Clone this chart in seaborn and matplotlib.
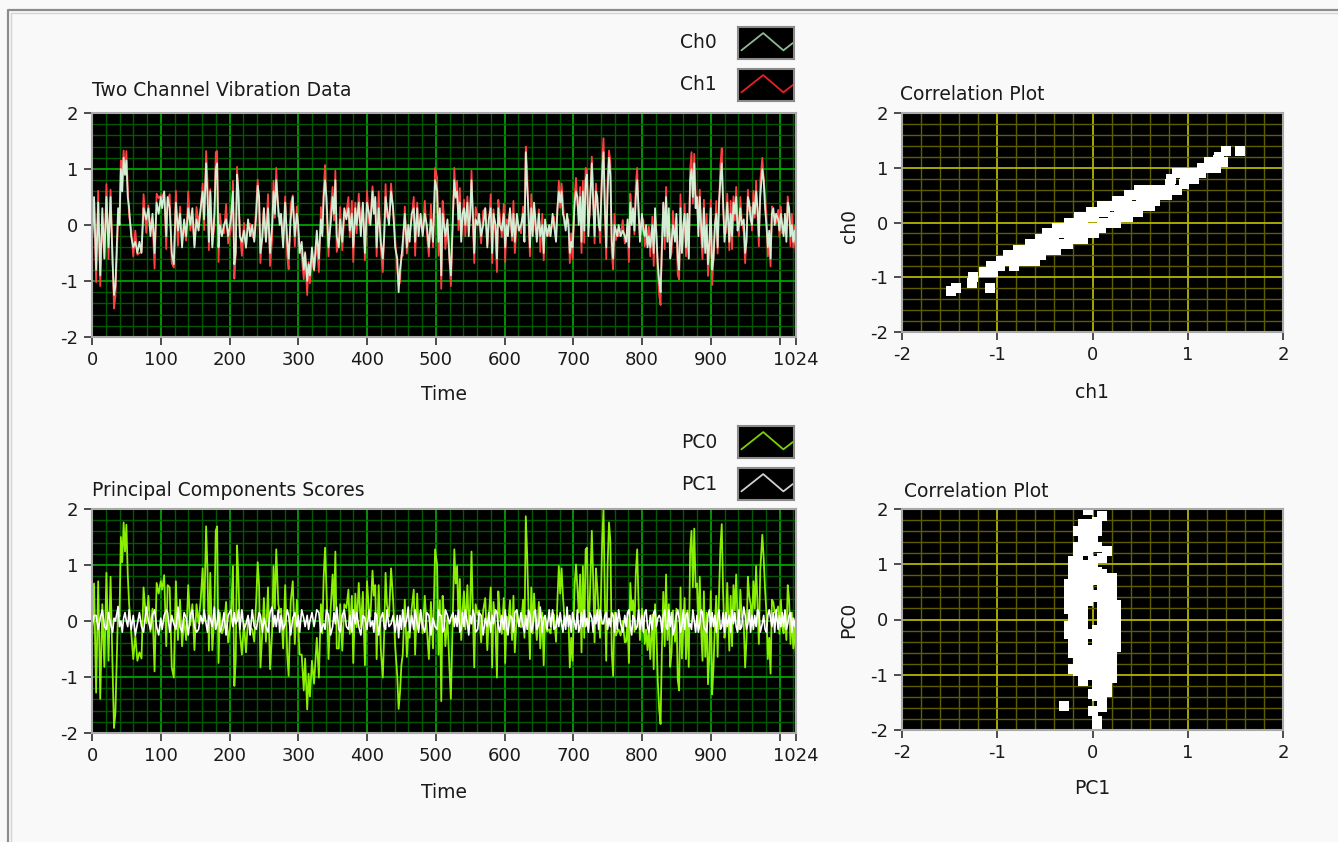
import numpy as np
import pandas as pd
import seaborn as sns
import matplotlib.pyplot as plt
from matplotlib.lines import Line2D
from matplotlib.ticker import MultipleLocator

# sample index (Time) and the two vibration channels
t = [0, 3, 6, 9, 12, 15, 18, 21, 24, 27, 30, 32, 34, 38, 40, 42, 44, 46, 48, 50,
     52, 54, 57, 60, 63, 66, 69, 72, 75, 79, 82, 85, 88, 91, 94, 97, 100, 102, 105, 108,
     110, 113, 116, 119, 122, 125, 128, 131, 134, 137, 140, 143, 146, 149, 152, 155, 158, 161, 163, 166,
     168, 170, 172, 175, 178, 180, 182, 184, 186, 189, 192, 195, 198, 202, 205, 207, 209, 211, 213, 215,
     218, 221, 224, 227, 230, 233, 236, 239, 241, 243, 245, 248, 250, 253, 256, 259, 262, 264, 266, 268,
     271, 273, 275, 278, 281, 284, 286, 289, 292, 295, 298, 300, 302, 305, 308, 310, 313, 315, 317, 320,
     323, 327, 330, 333, 335, 337, 339, 341, 344, 347, 350, 352, 354, 356, 359, 361, 364, 367, 370, 373,
     375, 378, 380, 383, 385, 388, 391, 394, 397, 400, 403, 405, 408, 410, 412, 414, 417, 420, 423, 425,
     427, 429, 432, 435, 438, 441, 444, 446, 448, 450, 452, 455, 458, 460, 462, 465, 468, 470, 473, 475,
     478, 481, 484, 487, 490, 493, 496, 499, 502, 504, 506, 508, 510, 512, 514, 517, 520, 522, 525, 527,
     529, 531, 533, 535, 537, 539, 541, 543, 546, 548, 550, 552, 554, 556, 558, 561, 563, 566, 569, 572,
     575, 577, 580, 582, 584, 587, 589, 591, 593, 596, 599, 601, 603, 605, 608, 611, 613, 615, 618, 621,
     624, 627, 629, 631, 633, 635, 637, 639, 641, 643, 645, 647, 650, 652, 655, 657, 659, 662, 665, 667,
     670, 672, 675, 677, 679, 681, 683, 685, 687, 689, 691, 693, 695, 697, 699, 702, 704, 706, 708, 710,
     712, 714, 716, 718, 720, 722, 724, 727, 729, 731, 733, 735, 737, 739, 742, 744, 746, 748, 750, 752,
     754, 756, 758, 760, 762, 764, 766, 769, 772, 775, 777, 779, 781, 783, 785, 787, 789, 791, 793, 795,
     797, 800, 802, 804, 806, 808, 810, 812, 815, 817, 819, 821, 823, 825, 827, 829, 831, 833, 835, 837,
     839, 841, 843, 845, 848, 850, 852, 854, 856, 858, 860, 862, 864, 866, 868, 870, 872, 874, 876, 878,
     880, 882, 884, 886, 888, 890, 892, 894, 896, 898, 900, 902, 904, 906, 908, 910, 912, 914, 916, 918,
     920, 922, 924, 927, 929, 931, 933, 935, 937, 939, 941, 943, 945, 948, 950, 952, 954, 956, 958, 960,
     962, 964, 966, 968, 970, 972, 975, 977, 979, 981, 983, 985, 987, 989, 991, 993, 995, 998, 1000, 1002,
     1004, 1006, 1008, 1010, 1012, 1014, 1016, 1018, 1020, 1022, 1024]

ch0 = [-0.3, 0.5, -0.8, 0.4, -0.9, 0.3, -0.6, 0.5, -0.4, 0.5, -0.7, -1.25, -1.1, 0.3, 0.0, 1.0, 0.6, 1.2, 0.9, 1.15,
       0.5, 0.3, -0.2, -0.4, -0.3, -0.5, -0.3, -0.5, 0.3, 0.1, 0.3, -0.2, 0.2, -0.5, 0.4, 0.2, 0.5, 0.3, 0.6, -0.2,
       0.5, 0.3, -0.5, -0.7, 0.4, -0.1, 0.2, -0.4, 0.1, -0.2, 0.3, 0.0, 0.3, -0.4, 0.1, -0.1, 0.3, 0.6, 0.1, 1.1,
       0.5, -0.3, 0.6, -0.4, 0.2, 1.0, 1.1, -0.4, 0.0, -0.2, 0.0, 0.1, -0.2, 0.1, 0.6, -0.7, -0.5, 0.9, 0.6, -0.2,
       -0.3, -0.1, -0.4, 0.1, -0.2, 0.0, -0.3, 0.2, 0.7, 0.5, -0.5, -0.2, 0.3, -0.3, 0.3, -0.5, 0.0, 0.6, 0.2, 0.8,
       0.3, 0.0, 0.2, -0.4, 0.4, -0.3, -0.6, 0.1, 0.5, -0.2, 0.2, 0.0, -0.5, -0.3, -0.8, -0.5, -1.0, -0.7, -0.9, -0.4,
       -0.8, -0.1, -0.6, 0.1, -0.2, 0.5, 0.8, 0.5, -0.4, 0.0, 0.5, 0.2, 0.8, -0.2, -0.4, 0.1, -0.3, 0.3, 0.1, 0.3,
       -0.1, 0.2, -0.4, 0.3, 0.0, 0.4, -0.2, 0.4, -0.5, 0.4, 0.2, 0.0, 0.6, 0.2, 0.5, -0.4, 0.3, -0.3, -0.6, -0.2,
       0.5, 0.3, 0.0, 0.6, 0.3, -0.4, -0.6, -1.2, -0.8, -0.6, -0.3, 0.2, -0.4, 0.0, -0.3, 0.2, 0.3, -0.3, 0.3, -0.2,
       0.2, -0.2, 0.2, 0.0, -0.4, 0.1, -0.3, 0.8, 0.6, -0.3, 0.3, -0.9, 0.2, 0.0, -0.2, 0.1, -0.6, -0.9, 0.2, 0.8,
       0.5, 0.6, 0.1, 0.4, -0.3, 0.2, 0.3, 0.0, 0.4, -0.2, 0.2, 0.8, 0.2, -0.5, 0.1, 0.0, 0.2, -0.2, 0.0, 0.3,
       -0.4, 0.1, 0.3, -0.5, 0.2, 0.0, -0.6, 0.3, 0.0, -0.1, 0.2, -0.4, 0.0, -0.2, 0.3, -0.2, 0.2, -0.3, 0.2, -0.1,
       0.0, 0.2, -0.3, 1.3, 0.7, 0.2, -0.4, 0.3, -0.2, 0.4, 0.1, -0.3, 0.2, -0.2, 0.0, -0.5, 0.1, -0.2, 0.0, -0.2,
       0.2, 0.0, -0.3, 0.3, 0.6, 0.4, 0.6, 0.2, 0.1, -0.1, 0.2, 0.0, -0.5, -0.3, -0.4, 0.4, 0.6, 0.5, 0.0, 0.5,
       -0.3, 0.6, -0.1, 0.8, 0.9, -0.2, 0.3, 1.1, 0.4, -0.2, 0.6, 0.5, 0.0, -0.1, 0.9, 1.3, 0.3, -0.4, 0.6, 1.2,
       0.9, -0.3, -0.6, 0.0, -0.1, -0.2, 0.0, -0.2, -0.1, -0.2, -0.3, 0.1, -0.4, 0.4, 0.0, 0.3, -0.1, 0.5, 0.8, 0.3,
       -0.3, 0.2, -0.1, -0.2, 0.0, -0.4, -0.2, -0.4, 0.0, -0.5, 0.3, -0.2, -0.7, -1.0, -1.2, -0.4, 0.4, -0.2, 0.5, -0.3,
       0.3, -0.6, -0.3, 0.0, -0.3, 0.2, -0.6, -0.8, 0.3, -0.5, 0.0, 0.2, -0.4, 0.2, -0.6, 0.8, 1.0, 0.5, 1.1, 0.3,
       0.5, -0.2, 0.5, 0.0, -0.4, 0.3, -0.5, 0.0, -0.7, -0.3, 0.3, -0.8, -0.6, 0.0, 0.2, -0.4, 0.4, 0.8, 1.1, 0.4,
       -0.3, 0.0, 0.4, -0.3, 0.2, -0.2, 0.4, 0.2, 0.5, -0.1, 0.0, 0.3, 0.0, 0.1, -0.5, -0.3, 0.5, 0.4, 0.1, 0.0,
       0.4, 0.2, 0.6, 0.3, -0.2, 0.5, 1.0, 0.8, 0.3, 0.0, -0.4, -0.1, -0.6, 0.2, 0.3, 0.0, 0.2, 0.1, -0.1, 0.2,
       0.0, -0.2, 0.2, -0.3, 0.4, 0.3, -0.2, 0.0, -0.3, -0.1, -0.4]

ch1 = [-0.25, 0.48, -1.02, 0.61, -1.09, 0.15, -0.59, 0.73, -0.61, 0.63, -0.6, -1.49, -1.27, 0.1, 0.1, 1.15, 0.89, 1.33, 0.89, 1.32,
       0.68, 0.15, -0.08, -0.56, -0.1, -0.53, -0.5, -0.48, 0.55, -0.14, 0.35, -0.08, 0.13, -0.78, 0.56, 0.48, 0.53, 0.5, 0.59, -0.43,
       0.43, 0.55, -0.68, -0.76, 0.61, -0.37, 0.33, -0.26, -0.04, -0.28, 0.6, -0.1, 0.15, -0.36, 0.32, 0.04, 0.25, 0.74, -0.09, 1.32,
       0.78, -0.45, 0.64, -0.36, -0.02, 1.3, 1.32, -0.66, 0.2, -0.13, -0.15, 0.37, -0.33, -0.09, 0.79, -0.96, -0.53, 1.04, 0.49, -0.08,
       -0.55, 0.04, -0.41, 0.02, 0.02, -0.2, -0.25, 0.38, 0.81, 0.43, -0.68, -0.03, 0.3, -0.25, 0.55, -0.73, -0.25, 0.79, 0.13, 1.02,
       0.15, 0.2, 0.13, -0.31, 0.51, -0.55, -0.79, 0.37, 0.53, -0.38, 0.33, -0.1, -0.38, -0.55, -0.97, -0.48, -1.25, -0.66, -1.04, -0.61,
       -0.82, -0.32, -0.84, 0.32, -0.13, 0.63, 1.07, 0.38, -0.56, 0.25, 0.68, 0.08, 0.97, -0.48, -0.31, 0.32, -0.45, 0.15, 0.22, 0.5,
       -0.22, 0.43, -0.66, 0.4, -0.15, 0.56, 0.02, 0.36, -0.63, 0.61, 0.03, 0.1, 0.69, 0.43, 0.43, -0.56, 0.6, -0.4, -0.84, -0.13,
       0.73, 0.15, 0.1, 0.74, 0.25, -0.26, -0.79, -1.08, -1.02, -0.54, -0.55, 0.33, -0.51, -0.25, -0.15, 0.13, 0.5, -0.55, 0.4, -0.03,
       0.03, -0.13, 0.43, -0.15, -0.56, 0.37, -0.4, 1.02, 0.84, -0.55, 0.25, -1.14, 0.43, 0.15, -0.43, 0.02, -0.64, -1.09, 0.08, 1.02,
       0.48, 0.79, -0.09, 0.66, -0.2, 0.08, 0.45, -0.2, 0.51, 0.02, 0.13, 0.97, 0.03, -0.68, 0.32, 0.15, 0.08, -0.33, 0.25, 0.3,
       -0.36, -0.04, 0.55, -0.68, 0.28, -0.2, -0.84, 0.45, 0.2, -0.22, 0.38, -0.66, 0.1, 0.02, 0.25, -0.28, 0.43, -0.5, 0.03, -0.02,
       -0.15, 0.33, -0.15, 1.4, 0.96, 0.03, -0.56, 0.55, -0.13, 0.31, -0.09, -0.2, 0.28, -0.48, 0.2, -0.63, 0.02, -0.08, -0.2, -0.13,
       0.03, 0.15, -0.25, 0.25, 0.79, 0.31, 0.74, 0.43, 0.02, 0.04, -0.02, 0.1, -0.68, -0.15, -0.61, 0.51, 0.84, 0.38, 0.2, 0.68,
       -0.5, 0.79, -0.32, 1.02, 0.99, -0.03, 0.2, 1.22, 0.66, -0.33, 0.74, 0.38, 0.15, -0.32, 1.09, 1.55, 0.25, -0.61, 0.84, 1.33,
       1.14, -0.5, -0.79, 0.2, -0.27, -0.08, -0.2, -0.18, 0.09, -0.33, -0.25, -0.04, -0.66, 0.56, 0.25, 0.25, -0.17, 0.73, 1.02, 0.15,
       -0.2, 0.13, 0.09, -0.38, -0.2, -0.36, -0.03, -0.56, 0.15, -0.73, 0.15, -0.13, -0.86, -1.25, -1.43, -0.26, 0.36, -0.43, 0.68, -0.2,
       0.15, -0.59, -0.5, 0.25, -0.25, 0.13, -0.89, -0.97, 0.55, -0.48, -0.2, 0.38, -0.56, 0.08, -0.59, 0.97, 1.3, 0.38, 1.27, 0.55,
       0.48, -0.03, 0.63, -0.2, -0.61, 0.45, -0.43, 0.2, -0.91, -0.55, 0.45, -1.07, -0.59, -0.1, 0.43, -0.51, 0.26, 1.07, 1.37, 0.31,
       -0.15, -0.15, 0.56, -0.45, 0.43, -0.43, 0.51, 0.08, 0.68, 0.09, -0.2, 0.5, 0.1, -0.14, -0.68, -0.2, 0.63, 0.26, 0.32, -0.1,
       0.61, 0.13, 0.79, 0.15, -0.38, 0.78, 1.2, 0.82, 0.5, 0.2, -0.56, -0.32, -0.74, 0.33, 0.2, 0.2, 0.03, 0.27, -0.22, 0.33,
       -0.15, -0.13, 0.03, -0.2, 0.51, 0.25, -0.38, 0.2, -0.4, -0.02, -0.56]

# principal component scores
pc0 = [-0.37, 0.67, -1.28, 0.71, -1.39, 0.3, -0.82, 0.86, -0.71, 0.79, -0.9, -1.91, -1.65, 0.26, 0.08, 1.5, 1.05, 1.76, 1.24, 1.72,
       0.83, 0.3, -0.19, -0.68, -0.26, -0.71, -0.56, -0.67, 0.6, -0.04, 0.45, -0.19, 0.22, -0.9, 0.68, 0.49, 0.71, 0.56, 0.82, -0.45,
       0.64, 0.6, -0.83, -1.01, 0.71, -0.34, 0.38, -0.45, 0.04, -0.34, 0.64, -0.08, 0.3, -0.52, 0.3, -0.04, 0.37, 0.94, 0.0, 1.69,
       0.9, -0.53, 0.86, -0.52, 0.11, 1.61, 1.69, -0.75, 0.15, -0.22, -0.11, 0.34, -0.38, 0.0, 0.98, -1.16, -0.71, 1.35, 0.75, -0.19,
       -0.6, -0.04, -0.56, 0.07, -0.11, -0.15, -0.37, 0.41, 1.05, 0.64, -0.83, -0.15, 0.41, -0.37, 0.6, -0.86, -0.19, 0.98, 0.22, 1.28,
       0.3, 0.15, 0.22, -0.49, 0.64, -0.6, -0.98, 0.34, 0.71, -0.41, 0.38, -0.08, -0.6, -0.6, -1.24, -0.67, -1.58, -0.94, -1.35, -0.71,
       -1.12, -0.3, -1.01, 0.3, -0.22, 0.79, 1.31, 0.6, -0.68, 0.19, 0.83, 0.19, 1.24, -0.49, -0.49, 0.3, -0.53, 0.3, 0.23, 0.56,
       -0.23, 0.45, -0.75, 0.49, -0.11, 0.68, -0.11, 0.52, -0.79, 0.71, 0.15, 0.08, 0.9, 0.45, 0.64, -0.68, 0.64, -0.49, -1.01, -0.22,
       0.86, 0.3, 0.08, 0.94, 0.37, -0.45, -0.98, -1.57, -1.28, -0.79, -0.6, 0.38, -0.64, -0.19, -0.3, 0.22, 0.56, -0.6, 0.49, -0.15,
       0.15, -0.22, 0.45, -0.11, -0.68, 0.34, -0.49, 1.28, 1.01, -0.6, 0.37, -1.43, 0.45, 0.11, -0.45, 0.07, -0.86, -1.39, 0.19, 1.28,
       0.67, 0.98, 0.0, 0.75, -0.34, 0.19, 0.53, -0.15, 0.64, -0.11, 0.22, 1.24, 0.15, -0.83, 0.3, 0.11, 0.19, -0.38, 0.19, 0.41,
       -0.52, 0.04, 0.6, -0.83, 0.34, -0.15, -1.01, 0.53, 0.15, -0.23, 0.41, -0.75, 0.08, -0.11, 0.37, -0.34, 0.45, -0.56, 0.15, -0.07,
       -0.11, 0.38, -0.3, 1.87, 1.16, 0.15, -0.68, 0.6, -0.22, 0.49, 0.0, -0.34, 0.34, -0.49, 0.15, -0.79, 0.07, -0.19, -0.15, -0.22,
       0.15, 0.11, -0.37, 0.37, 0.98, 0.49, 0.94, 0.45, 0.07, -0.04, 0.11, 0.08, -0.83, -0.3, -0.71, 0.64, 1.01, 0.6, 0.15, 0.83,
       -0.56, 0.98, -0.3, 1.28, 1.31, -0.15, 0.34, 1.61, 0.75, -0.38, 0.94, 0.6, 0.11, -0.3, 1.39, 1.99, 0.37, -0.71, 1.01, 1.76,
       1.43, -0.56, -0.98, 0.15, -0.26, -0.19, -0.15, -0.26, 0.0, -0.38, -0.37, 0.04, -0.75, 0.68, 0.19, 0.37, -0.19, 0.86, 1.28, 0.3,
       -0.34, 0.22, 0.0, -0.41, -0.15, -0.52, -0.15, -0.68, 0.11, -0.86, 0.3, -0.22, -1.09, -1.58, -1.84, -0.45, 0.52, -0.45, 0.83, -0.34,
       0.3, -0.82, -0.56, 0.19, -0.37, 0.22, -1.05, -1.24, 0.6, -0.67, -0.15, 0.41, -0.68, 0.19, -0.82, 1.24, 1.61, 0.6, 1.65, 0.6,
       0.67, -0.15, 0.79, -0.15, -0.71, 0.53, -0.64, 0.15, -1.13, -0.6, 0.53, -1.31, -0.82, -0.08, 0.45, -0.64, 0.45, 1.31, 1.73, 0.49,
       -0.3, -0.11, 0.68, -0.53, 0.45, -0.45, 0.64, 0.19, 0.83, 0.0, -0.15, 0.56, 0.08, -0.04, -0.83, -0.34, 0.79, 0.45, 0.3, -0.08,
       0.71, 0.22, 0.98, 0.3, -0.41, 0.9, 1.54, 1.12, 0.56, 0.15, -0.68, -0.3, -0.94, 0.38, 0.34, 0.15, 0.15, 0.26, -0.23, 0.38,
       -0.11, -0.22, 0.15, -0.34, 0.64, 0.37, -0.41, 0.15, -0.49, -0.07, -0.68]

pc1 = [-0.1, 0.1, 0.1, -0.15, 0.05, 0.2, -0.1, -0.15, 0.15, -0.05, -0.2, 0.05, 0.0, 0.25, -0.1, 0.0, -0.2, 0.05, 0.15, 0.0,
       -0.1, 0.2, -0.15, 0.1, -0.25, -0.05, 0.15, -0.1, -0.2, 0.25, 0.0, -0.15, 0.1, 0.2, -0.1, -0.25, 0.05, -0.15, 0.1, 0.2,
       0.15, -0.2, 0.1, -0.05, -0.15, 0.25, -0.1, -0.2, 0.15, 0.05, -0.25, 0.1, 0.2, -0.1, -0.2, -0.15, 0.1, -0.05, 0.2, -0.05,
       -0.2, 0.1, 0.05, -0.1, 0.25, -0.15, -0.05, 0.2, -0.2, -0.1, 0.15, -0.25, 0.1, 0.2, -0.1, 0.15, -0.05, 0.0, 0.2, -0.15,
       0.2, -0.15, -0.05, 0.1, -0.25, 0.2, -0.1, -0.15, 0.0, 0.15, 0.1, -0.2, 0.05, -0.1, -0.2, 0.15, 0.25, -0.1, 0.1, -0.1,
       0.2, -0.2, 0.1, -0.15, -0.05, 0.2, 0.1, -0.25, 0.05, 0.15, -0.1, 0.1, -0.2, 0.2, 0.05, -0.1, 0.1, -0.15, 0.0, 0.15,
       -0.1, 0.2, 0.15, -0.2, -0.1, -0.05, -0.15, 0.2, 0.1, -0.25, -0.1, 0.15, -0.05, 0.25, -0.15, -0.2, 0.1, 0.2, -0.1, -0.15,
       0.1, -0.2, 0.2, -0.05, 0.15, -0.1, -0.25, 0.1, 0.05, -0.15, 0.2, -0.1, 0.0, -0.2, 0.15, 0.1, -0.25, 0.05, 0.15, -0.1,
       -0.15, 0.2, -0.1, -0.05, 0.1, -0.2, 0.1, -0.3, 0.1, -0.15, 0.2, -0.1, 0.05, 0.25, -0.2, 0.1, -0.15, 0.2, -0.05, -0.2,
       0.2, -0.1, -0.2, 0.15, 0.1, -0.25, 0.05, -0.1, -0.15, 0.2, 0.1, 0.1, -0.2, -0.15, 0.2, 0.1, -0.05, 0.05, 0.15, -0.1,
       0.1, -0.1, 0.2, -0.2, -0.15, 0.15, -0.1, 0.2, -0.05, -0.25, 0.1, -0.05, 0.2, 0.1, -0.2, -0.15, 0.15, 0.1, -0.25, 0.05,
       -0.1, 0.15, -0.2, 0.1, -0.05, 0.2, 0.15, -0.1, -0.2, 0.1, -0.15, 0.2, -0.1, -0.25, 0.1, 0.05, -0.2, 0.15, 0.2, -0.1,
       0.15, -0.1, -0.2, 0.1, -0.15, 0.2, 0.1, -0.2, -0.1, 0.15, 0.2, -0.15, -0.05, 0.25, -0.2, 0.05, 0.1, -0.15, 0.2, -0.1,
       0.2, -0.15, -0.1, 0.1, -0.1, 0.15, -0.05, -0.2, 0.1, -0.15, 0.25, -0.1, 0.1, -0.2, 0.15, -0.05, -0.15, 0.2, -0.2, -0.1,
       0.15, -0.1, 0.2, -0.1, 0.05, -0.2, 0.15, 0.05, -0.2, 0.1, -0.05, 0.2, -0.15, 0.2, -0.05, -0.05, 0.1, 0.15, -0.15, 0.05,
       -0.1, 0.15, 0.1, -0.2, 0.15, -0.15, 0.2, -0.05, -0.2, 0.1, -0.1, 0.15, 0.2, -0.1, -0.25, 0.1, 0.05, -0.15, -0.1, 0.2,
       -0.15, 0.1, -0.2, 0.15, 0.2, -0.1, -0.2, 0.1, -0.15, 0.15, 0.2, -0.1, 0.05, 0.1, 0.05, -0.2, 0.1, 0.2, -0.1, -0.15,
       0.2, -0.1, 0.15, -0.25, -0.1, 0.1, 0.2, 0.05, -0.2, -0.1, 0.2, -0.15, 0.1, 0.15, -0.1, -0.05, -0.15, 0.2, 0.0, -0.2,
       0.1, -0.2, -0.05, 0.2, 0.15, -0.1, -0.15, -0.2, 0.1, 0.2, -0.1, 0.15, -0.1, 0.1, -0.2, 0.05, 0.2, -0.15, -0.1, 0.15,
       -0.2, 0.15, -0.1, 0.1, -0.2, 0.2, -0.05, 0.15, -0.1, -0.2, 0.2, -0.15, -0.1, 0.25, 0.1, -0.15, -0.05, 0.2, -0.2, 0.1,
       -0.15, 0.1, -0.1, 0.2, 0.15, -0.2, -0.05, 0.1, -0.15, -0.2, 0.1, 0.2, 0.05, -0.1, 0.15, -0.2, 0.2, -0.15, 0.1, -0.1,
       0.15, -0.1, 0.2, -0.15, -0.05, 0.1, 0.15, -0.2, 0.05, -0.1, 0.1]

time_ticks = [0, 100, 200, 300, 400, 500, 600, 700, 800, 900, 1000, 1024]
time_labels = ['0', '100', '200', '300', '400', '500', '600', '700', '800', '900', '', '1024']

df = pd.DataFrame({'t': t, 'ch0': ch0, 'ch1': ch1, 'pc0': pc0, 'pc1': pc1})

W, H = 1338, 842


def box(x0, y0, x1, y1):
    # pixel box (origin top left) -> figure rect
    return [x0 / W, 1 - y1 / H, (x1 - x0) / W, (y1 - y0) / H]


def fx(x):
    return x / W


def fy(y):
    return 1 - y / H


sns.set_theme(style='ticks')
plt.rcParams['font.family'] = ['DejaVu Sans']
plt.rcParams['axes.unicode_minus'] = False
plt.rcParams['text.color'] = '#1a1a1a'
plt.rcParams['axes.labelcolor'] = '#1a1a1a'

BG = '#f9f9f9'
fig = plt.figure(figsize=(13.38, 8.42), dpi=100, facecolor=BG)

# panel frame
fig.add_artist(Line2D([fx(8), fx(8), fx(1338)], [fy(842), fy(10), fy(10)], color='#8c8c8c', lw=1.6))
fig.add_artist(Line2D([fx(10.5), fx(10.5), fx(1338)], [fy(842), fy(12.5), fy(12.5)], color='#d4d4d4', lw=1.0))


def style(ax, xlim, xticks, xminor, grid_major, grid_minor):
    ax.set_facecolor('black')
    ax.set_xlim(xlim)
    ax.set_ylim(-2, 2)
    ax.set_xticks(xticks)
    ax.set_yticks([-2, -1, 0, 1, 2])
    ax.xaxis.set_minor_locator(MultipleLocator(xminor))
    ax.yaxis.set_minor_locator(MultipleLocator(0.2))
    ax.set_axisbelow(True)
    ax.grid(True, which='minor', color=grid_minor, lw=1.0)
    ax.grid(True, which='major', color=grid_major, lw=1.3)
    ax.tick_params(which='minor', length=0)
    ax.tick_params(which='major', length=6, width=1.2, color='#303030', direction='out',
                   labelsize=13, labelcolor='#1a1a1a', pad=4)
    for s in ax.spines.values():
        s.set_color('#a8a8a8')
        s.set_linewidth(1.5)


# ---- upper left: two channel vibration data
ax1 = fig.add_axes(box(92, 113, 796, 337))
sns.lineplot(data=df, x='t', y='ch1', ax=ax1, color='#ff4040', lw=1.3, estimator=None, sort=False)
sns.lineplot(data=df, x='t', y='ch0', ax=ax1, color='#d2eed4', lw=1.3, estimator=None, sort=False)
style(ax1, (0, 1024), time_ticks, 20, '#00a000', '#005800')
ax1.set_xticklabels(time_labels)
ax1.set_xlabel('Time', fontsize=13.5)
ax1.set_ylabel('')
ax1.xaxis.set_label_coords(0.5, (337 - 395) / (337 - 113))
ax1.xaxis.label.set_va('center')
fig.text(fx(92), fy(91), 'Two Channel Vibration Data', fontsize=13.5, va='center', ha='left')

# ---- lower left: principal component scores
ax2 = fig.add_axes(box(92, 509, 796, 733))
sns.lineplot(data=df, x='t', y='pc0', ax=ax2, color='#88f000', lw=1.3, estimator=None, sort=False)
sns.lineplot(data=df, x='t', y='pc1', ax=ax2, color='white', lw=1.2, estimator=None, sort=False)
style(ax2, (0, 1024), time_ticks, 20, '#00a000', '#005800')
ax2.set_xticklabels(time_labels)
ax2.set_xlabel('Time', fontsize=13.5)
ax2.set_ylabel('')
ax2.xaxis.set_label_coords(0.5, (733 - 792) / (733 - 509))
ax2.xaxis.label.set_va('center')
fig.text(fx(92), fy(490), 'Principal Components Scores', fontsize=13.5, va='center', ha='left')

# ---- upper right: ch0 vs ch1
ax3 = fig.add_axes(box(902, 113, 1283, 332))
sns.scatterplot(data=df, x='ch1', y='ch0', ax=ax3, marker='s', s=46, color='white', linewidth=0)
style(ax3, (-2, 2), [-2, -1, 0, 1, 2], 0.2, '#b4b400', '#5e5e00')
ax3.set_xlabel('ch1', fontsize=13.5)
ax3.set_ylabel('ch0', fontsize=13.5)
ax3.xaxis.set_label_coords(0.5, (332 - 392) / (332 - 113))
ax3.xaxis.label.set_va('center')
ax3.yaxis.set_label_coords((849 - 902) / (1283 - 902), (332 - 226) / (332 - 113))
ax3.yaxis.label.set_va('center')
fig.text(fx(900), fy(94), 'Correlation Plot', fontsize=13.5, va='center', ha='left')

# ---- lower right: PC0 vs PC1
ax4 = fig.add_axes(box(902, 509, 1283, 730))
sns.scatterplot(data=df, x='pc1', y='pc0', ax=ax4, marker='s', s=46, color='white', linewidth=0)
style(ax4, (-2, 2), [-2, -1, 0, 1, 2], 0.2, '#b4b400', '#5e5e00')
ax4.set_xlabel('PC1', fontsize=13.5)
ax4.set_ylabel('PC0', fontsize=13.5)
ax4.xaxis.set_label_coords(0.5, (730 - 789) / (730 - 509))
ax4.xaxis.label.set_va('center')
ax4.yaxis.set_label_coords((849 - 902) / (1283 - 902), (730 - 620) / (730 - 509))
ax4.yaxis.label.set_va('center')
fig.text(fx(904), fy(492), 'Correlation Plot', fontsize=13.5, va='center', ha='left')

# ---- plot legends (name + small swatch)
legend_names = ['Ch0', 'Ch1', 'PC0', 'PC1']
legend_colors = ['#8fb894', '#e8202a', '#7ed000', '#d0d0d0']
legend_rows = [(27, 59), (69, 101), (426, 458), (468, 500)]
swatch_x = [0.06, 0.45, 0.81, 0.98]
swatch_y = [0.27, 0.81, 0.27, 0.5]
for name, col, (y0, y1) in zip(legend_names, legend_colors, legend_rows):
    fig.text(fx(717), fy((y0 + y1) / 2), name, fontsize=13.5, ha='right', va='center')
    sw = fig.add_axes(box(738, y0, 794, y1))
    sw.set_facecolor('black')
    sw.plot(swatch_x, swatch_y, color=col, lw=1.3)
    sw.set_xlim(0, 1)
    sw.set_ylim(0, 1)
    sw.set_xticks([])
    sw.set_yticks([])
    for s in sw.spines.values():
        s.set_color('#8a8a8a')
        s.set_linewidth(1.5)

fig.savefig('out.png', dpi=100, facecolor=BG)
